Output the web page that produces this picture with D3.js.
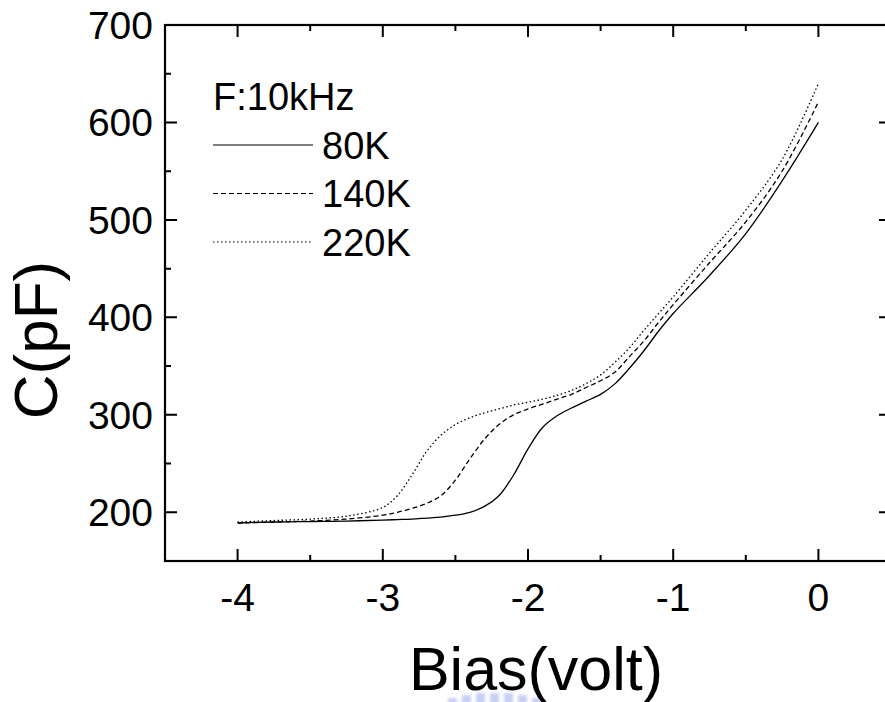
<!DOCTYPE html>
<html>
<head>
<meta charset="utf-8">
<script src="https://cdn.jsdelivr.net/npm/d3@7"></script>
<style>
  body { margin: 0; background: #fff; }
  svg { display: block; font-family: "Liberation Sans", Arial, sans-serif; }
</style>
</head>
<body>
<svg id="chart" width="885" height="702"></svg>
<script>
// C-V curves at 10 kHz, three temperatures

var bias = [-4, -3.75, -3.5, -3.25, -3.0, -2.9, -2.8, -2.7, -2.6, -2.5, -2.4, -2.3, -2.2, -2.1, -2.0,
            -1.9, -1.8, -1.7, -1.6, -1.5, -1.4, -1.3, -1.2, -1.1, -1.0, -0.75, -0.5, -0.25, 0];

var c80K  = [189, 190, 190.5, 191, 192, 192.5, 193, 194, 195, 197, 200, 206, 217, 238, 265,
             287, 299, 307, 314, 321, 332, 348, 366, 386, 404, 443, 486, 540, 600];
var c140K = [189, 190, 191, 193, 197, 200, 204, 209, 217, 233, 255, 275, 290, 300, 306,
             311, 316, 321, 328, 335, 344, 360, 376, 395, 413, 456, 498, 550, 621];
var c220K = [190, 191.5, 193, 196, 205, 217, 238, 262, 279, 290, 297, 302, 306, 310, 313,
             316, 320, 325, 332, 341, 354, 369, 387, 404, 421, 466, 510, 562, 640];

var seriesNames = ["80K", "140K", "220K"];
var seriesDash = ["none", "5,3", "1.5,2.5"];
var xTicks = [-4, -3, -2, -1, 0];
var yTicks = [200, 300, 400, 500, 600, 700];

var svg = d3.select("#chart");

var x = d3.scaleLinear().domain([-4.5, 0.5]).range([165, 891]);
var y = d3.scaleLinear().domain([150, 700]).range([561, 25]);

var xMinor = d3.range(-4.5, 0.51, 0.5);
var yMinor = d3.range(150, 701, 50);
function tickLen(v, list) { return list.indexOf(v) >= 0 ? 12 : 6; }

// curves
var line = d3.line()
    .x(function(d) { return x(d[0]); })
    .y(function(d) { return y(d[1]); })
    .curve(d3.curveCatmullRom.alpha(0.5));

[c80K, c140K, c220K].forEach(function(vals, i) {
  svg.append("path")
      .datum(bias.map(function(b, j) { return [b, vals[j]]; }))
      .attr("fill", "none")
      .attr("stroke", "#000")
      .attr("stroke-width", 1.3)
      .attr("stroke-dasharray", seriesDash[i])
      .attr("d", line);
});

// frame
svg.append("rect")
    .attr("x", x(-4.5))
    .attr("y", y(700))
    .attr("width", x(0.5) - x(-4.5))
    .attr("height", y(150) - y(700))
    .attr("fill", "none")
    .attr("stroke", "#000")
    .attr("stroke-width", 2.2);

// ticks pointing inward on all four sides
var tickPath = d3.path();
xMinor.forEach(function(v) {
  var len = tickLen(v, xTicks);
  tickPath.moveTo(x(v), y(150)); tickPath.lineTo(x(v), y(150) - len);
  tickPath.moveTo(x(v), y(700)); tickPath.lineTo(x(v), y(700) + len);
});
yMinor.forEach(function(v) {
  var len = tickLen(v, yTicks);
  tickPath.moveTo(x(-4.5), y(v)); tickPath.lineTo(x(-4.5) + len, y(v));
  tickPath.moveTo(x(0.5), y(v)); tickPath.lineTo(x(0.5) - len, y(v));
});
svg.append("path")
    .attr("d", tickPath.toString())
    .attr("fill", "none")
    .attr("stroke", "#000")
    .attr("stroke-width", 2);

// tick labels
svg.append("g")
    .attr("font-size", 39)
    .attr("text-anchor", "middle")
  .selectAll("text").data(xTicks).enter().append("text")
    .attr("x", function(d) { return x(d); })
    .attr("y", y(150) + 50)
    .text(function(d) { return String(d); });

svg.append("g")
    .attr("font-size", 39)
    .attr("text-anchor", "end")
  .selectAll("text").data(yTicks).enter().append("text")
    .attr("x", x(-4.5) - 12)
    .attr("y", function(d) { return y(d); })
    .attr("dy", "0.36em")
    .text(function(d) { return String(d); });

// faint blue smudge under the x title (scan artefact)
var defs = svg.append("defs");
defs.append("filter").attr("id", "soft")
  .append("feGaussianBlur").attr("stdDeviation", 1.5);
var smudge = svg.append("g").attr("fill", "#b8c3f0").attr("filter", "url(#soft)").attr("opacity", 0.8);
[[448, 698, 12], [462, 695, 12], [476, 693, 12], [490, 693, 12], [504, 693, 12], [518, 695, 12], [532, 698, 12]]
  .forEach(function(r) {
    smudge.append("rect").attr("x", r[0]).attr("y", r[1]).attr("width", r[2] - 3).attr("height", 702 - r[1] + 2);
  });

// axis titles
svg.append("text")
    .attr("transform", "translate(57,340) rotate(-90)")
    .attr("text-anchor", "middle")
    .attr("font-size", 62)
    .text("C(pF)");

svg.append("text")
    .attr("x", 536)
    .attr("y", 690)
    .attr("text-anchor", "middle")
    .attr("font-size", 61)
    .text("Bias(volt)");

// legend
var legendRows = ["F:10kHz"].concat(seriesNames);
var legend = svg.append("g").attr("font-size", 38);

var legendItem = legend.selectAll("g.item")
    .data(legendRows)
    .enter().append("g")
      .attr("class", "item")
      .attr("transform", function(d, i) { return "translate(0," + (96.5 + i * 48.5) + ")"; });

legendItem.filter(function(d, i) { return i > 0; })
  .append("line")
    .attr("x1", 213)
    .attr("x2", 313)
    .attr("stroke", "#000")
    .attr("stroke-width", 1.2)
    .attr("stroke-dasharray", function(d, i) { return seriesDash[i]; });

legendItem.append("text")
    .attr("x", function(d, i) { return i > 0 ? 322 : 213; })
    .attr("dy", "0.36em")
    .text(function(d) { return d; });
</script>
</body>
</html>
